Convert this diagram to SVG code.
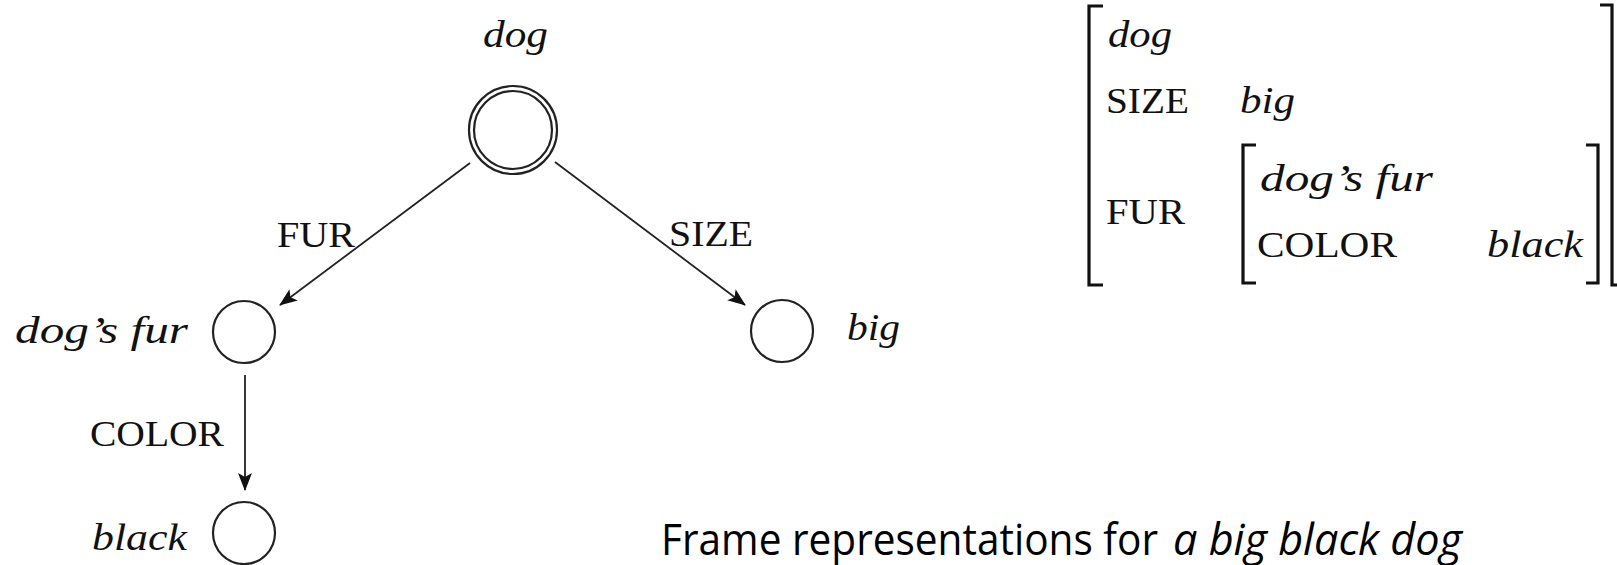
<svg xmlns="http://www.w3.org/2000/svg" width="1617" height="565" viewBox="0 0 1617 565">
<style>
.it{font-family:"Liberation Serif","DejaVu Serif",serif;font-style:italic;font-size:37px;fill:#111}
.sc{font-family:"Liberation Serif","DejaVu Serif",serif;font-size:36px;fill:#111}
.cap{font-family:"Open Sans","Liberation Sans",sans-serif;font-size:43px;fill:#000}
.node{fill:none;stroke:#222;stroke-width:2.2}
.edge{fill:none;stroke:#222;stroke-width:1.8;marker-end:url(#arr)}
.br{fill:none;stroke:#111;stroke-width:3.2}
</style>
<defs>
<marker id="arr" viewBox="0 0 18 14" refX="17" refY="7" markerWidth="18" markerHeight="14" markerUnits="userSpaceOnUse" orient="auto">
<path d="M0,0 L18,7 L0,14 L4,7 Z" fill="#111"/>
</marker>
</defs>
<g id="connectors">
<line class="edge" x1="470" y1="163" x2="280" y2="305"/>
<line class="edge" x1="555" y1="162" x2="745" y2="305"/>
<line class="edge" x1="245" y1="375" x2="245" y2="490"/>
<text class="sc" x="277" y="247" textLength="78" lengthAdjust="spacingAndGlyphs">FUR</text>
<text class="sc" x="669" y="246" textLength="84" lengthAdjust="spacingAndGlyphs">SIZE</text>
<text class="sc" x="90" y="446" textLength="134" lengthAdjust="spacingAndGlyphs">COLOR</text>
</g>
<g id="node-dog">
<circle class="node" cx="513" cy="130" r="44"/>
<circle class="node" cx="513" cy="130" r="39"/>
<text class="it" x="483" y="47" textLength="65" lengthAdjust="spacingAndGlyphs">dog</text>
</g>
<g id="node-dogsfur">
<circle class="node" cx="244" cy="332" r="31"/>
<text class="it" x="15" y="343" textLength="173" lengthAdjust="spacingAndGlyphs">dog’s fur</text>
</g>
<g id="node-big">
<circle class="node" cx="782" cy="331" r="31"/>
<text class="it" x="847" y="340" textLength="53" lengthAdjust="spacingAndGlyphs">big</text>
</g>
<g id="node-black">
<circle class="node" cx="244" cy="533" r="31"/>
<text class="it" x="92" y="550" textLength="95" lengthAdjust="spacingAndGlyphs">black</text>
</g>
<g id="frame">
<path class="br" d="M1103,6 H1089 V285 H1103"/>
<path class="br" d="M1600,5 H1612 V285 H1620"/>
<path class="br" d="M1256,145 H1243 V283 H1256"/>
<path class="br" d="M1586,145 H1598 V283 H1586"/>
<text class="it" x="1108" y="47" textLength="64" lengthAdjust="spacingAndGlyphs">dog</text>
<text class="sc" x="1106" y="113" textLength="83" lengthAdjust="spacingAndGlyphs">SIZE</text>
<text class="it" x="1240" y="113" textLength="55" lengthAdjust="spacingAndGlyphs">big</text>
<text class="sc" x="1106" y="224" textLength="79" lengthAdjust="spacingAndGlyphs">FUR</text>
<text class="it" x="1260" y="191" textLength="173" lengthAdjust="spacingAndGlyphs">dog’s fur</text>
<text class="sc" x="1257" y="257" textLength="140" lengthAdjust="spacingAndGlyphs">COLOR</text>
<text class="it" x="1487" y="257" textLength="96" lengthAdjust="spacingAndGlyphs">black</text>
</g>
<g id="caption">
<text class="cap" x="661" y="555" textLength="497" lengthAdjust="spacingAndGlyphs">Frame representations for</text>
<text class="cap" x="1173" y="555" font-style="italic" textLength="289" lengthAdjust="spacingAndGlyphs">a big black dog</text>
</g>
</svg>
